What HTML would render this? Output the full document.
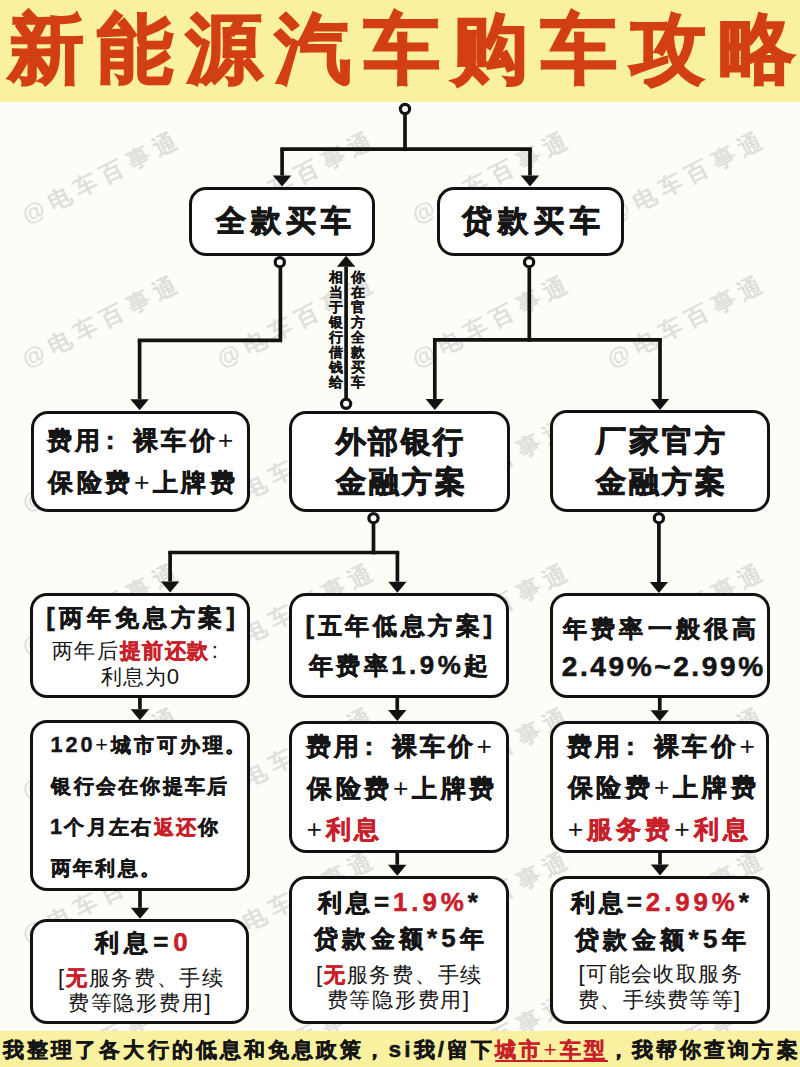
<!DOCTYPE html>
<html><head><meta charset="utf-8"><style>
html,body{margin:0;padding:0;}
body{width:800px;height:1067px;overflow:hidden;position:relative;background:#fcfdf7;font-family:"Liberation Sans", sans-serif;}
.hd{position:absolute;left:0;top:0;width:800px;height:102px;background:#f9f1a0;}
.ft{position:absolute;left:0;top:1031px;width:800px;height:36px;background:#f9f1a0;}
.wm{position:absolute;width:200px;height:30px;line-height:30px;text-align:center;font-size:23px;font-weight:700;letter-spacing:6.5px;padding-left:6.5px;box-sizing:border-box;color:#dfe0db;transform:rotate(-27deg);white-space:nowrap;}
.bx{position:absolute;box-sizing:border-box;border:3.8px solid #121212;border-radius:17px;background:#fff;}
.t{position:absolute;white-space:nowrap;}
.l{font-size:1.08em}
.vt{position:absolute;font-size:14px;line-height:15px;font-weight:700;-webkit-text-stroke:0.15px #121212;color:#121212;text-align:center;width:14px;}
svg{position:absolute;left:0;top:0;}
</style></head><body>
<div class="hd"></div>
<div class="wm" style="left:-1.25px;top:163px">@电车百事通</div><div class="wm" style="left:193.75px;top:163px">@电车百事通</div><div class="wm" style="left:388.75px;top:163px">@电车百事通</div><div class="wm" style="left:583.75px;top:163px">@电车百事通</div><div class="wm" style="left:-1.25px;top:307px">@电车百事通</div><div class="wm" style="left:193.75px;top:307px">@电车百事通</div><div class="wm" style="left:388.75px;top:307px">@电车百事通</div><div class="wm" style="left:583.75px;top:307px">@电车百事通</div><div class="wm" style="left:-1.25px;top:451px">@电车百事通</div><div class="wm" style="left:193.75px;top:451px">@电车百事通</div><div class="wm" style="left:388.75px;top:451px">@电车百事通</div><div class="wm" style="left:583.75px;top:451px">@电车百事通</div><div class="wm" style="left:-1.25px;top:595px">@电车百事通</div><div class="wm" style="left:193.75px;top:595px">@电车百事通</div><div class="wm" style="left:388.75px;top:595px">@电车百事通</div><div class="wm" style="left:583.75px;top:595px">@电车百事通</div><div class="wm" style="left:-1.25px;top:739px">@电车百事通</div><div class="wm" style="left:193.75px;top:739px">@电车百事通</div><div class="wm" style="left:388.75px;top:739px">@电车百事通</div><div class="wm" style="left:583.75px;top:739px">@电车百事通</div><div class="wm" style="left:-1.25px;top:883px">@电车百事通</div><div class="wm" style="left:193.75px;top:883px">@电车百事通</div><div class="wm" style="left:388.75px;top:883px">@电车百事通</div><div class="wm" style="left:583.75px;top:883px">@电车百事通</div><div class="wm" style="left:-1.25px;top:1027px">@电车百事通</div><div class="wm" style="left:193.75px;top:1027px">@电车百事通</div><div class="wm" style="left:388.75px;top:1027px">@电车百事通</div><div class="wm" style="left:583.75px;top:1027px">@电车百事通</div>
<svg width="800" height="1067" viewBox="0 0 800 1067"><polyline points="405,109 405,149.2" fill="none" stroke="#121212" stroke-width="3.7" stroke-linecap="square" stroke-linejoin="miter"/><polyline points="282.1,149.2 530,149.2" fill="none" stroke="#121212" stroke-width="3.7" stroke-linecap="square" stroke-linejoin="miter"/><polyline points="280.4,262.2 280.4,340.4 139.6,340.4" fill="none" stroke="#121212" stroke-width="3.7" stroke-linecap="square" stroke-linejoin="miter"/><polyline points="529.3,262.2 529.3,339.8" fill="none" stroke="#121212" stroke-width="3.7" stroke-linecap="square" stroke-linejoin="miter"/><polyline points="434.8,339.8 660,339.8" fill="none" stroke="#121212" stroke-width="3.7" stroke-linecap="square" stroke-linejoin="miter"/><polyline points="373.5,518.2 373.5,552.5" fill="none" stroke="#121212" stroke-width="3.7" stroke-linecap="square" stroke-linejoin="miter"/><polyline points="170.1,552.5 397.4,552.5" fill="none" stroke="#121212" stroke-width="3.7" stroke-linecap="square" stroke-linejoin="miter"/><line x1="282.1" y1="149.2" x2="282.1" y2="175.5" stroke="#121212" stroke-width="3.7"/><polygon points="272.90000000000003,175.5 291.3,175.5 282.1,186.5" fill="#121212"/><line x1="530" y1="149.2" x2="530" y2="175.5" stroke="#121212" stroke-width="3.7"/><polygon points="520.8,175.5 539.2,175.5 530,186.5" fill="#121212"/><line x1="139.6" y1="340.4" x2="139.6" y2="399.3" stroke="#121212" stroke-width="3.7"/><polygon points="130.4,399.3 148.79999999999998,399.3 139.6,410.3" fill="#121212"/><line x1="346.1" y1="404" x2="346.1" y2="266.7" stroke="#121212" stroke-width="3.7"/><polygon points="336.90000000000003,266.7 355.3,266.7 346.1,255.7" fill="#121212"/><line x1="434.8" y1="339.8" x2="434.8" y2="399" stroke="#121212" stroke-width="3.7"/><polygon points="425.6,399 444.0,399 434.8,410" fill="#121212"/><line x1="660" y1="339.8" x2="660" y2="399" stroke="#121212" stroke-width="3.7"/><polygon points="650.8,399 669.2,399 660,410" fill="#121212"/><line x1="170.1" y1="552.5" x2="170.1" y2="581.5" stroke="#121212" stroke-width="3.7"/><polygon points="160.9,581.5 179.29999999999998,581.5 170.1,592.5" fill="#121212"/><line x1="397.4" y1="552.5" x2="397.4" y2="581.7" stroke="#121212" stroke-width="3.7"/><polygon points="388.2,581.7 406.59999999999997,581.7 397.4,592.7" fill="#121212"/><line x1="658.9" y1="518.2" x2="658.9" y2="582" stroke="#121212" stroke-width="3.7"/><polygon points="649.6999999999999,582 668.1,582 658.9,593" fill="#121212"/><line x1="139.9" y1="698" x2="139.9" y2="709.2" stroke="#121212" stroke-width="3.7"/><polygon points="130.70000000000002,709.2 149.1,709.2 139.9,720.2" fill="#121212"/><line x1="397.25" y1="697.75" x2="397.25" y2="710" stroke="#121212" stroke-width="3.7"/><polygon points="388.05,710 406.45,710 397.25,721" fill="#121212"/><line x1="659.75" y1="697.75" x2="659.75" y2="710.2" stroke="#121212" stroke-width="3.7"/><polygon points="650.55,710.2 668.95,710.2 659.75,721.2" fill="#121212"/><line x1="140" y1="891" x2="140" y2="907.8" stroke="#121212" stroke-width="3.7"/><polygon points="130.8,907.8 149.2,907.8 140,918.8" fill="#121212"/><line x1="397.25" y1="852.6" x2="397.25" y2="864.8" stroke="#121212" stroke-width="3.7"/><polygon points="388.05,864.8 406.45,864.8 397.25,875.8" fill="#121212"/><line x1="660" y1="852.6" x2="660" y2="864.6" stroke="#121212" stroke-width="3.7"/><polygon points="650.8,864.6 669.2,864.6 660,875.6" fill="#121212"/><circle cx="405" cy="109" r="4.6" fill="#fff" stroke="#121212" stroke-width="3.2"/><circle cx="279.8" cy="262.2" r="4.6" fill="#fff" stroke="#121212" stroke-width="3.2"/><circle cx="529.1" cy="262.2" r="4.6" fill="#fff" stroke="#121212" stroke-width="3.2"/><circle cx="346.1" cy="403.8" r="4.6" fill="#fff" stroke="#121212" stroke-width="3.2"/><circle cx="373.5" cy="518.2" r="4.6" fill="#fff" stroke="#121212" stroke-width="3.2"/><circle cx="658.9" cy="518.2" r="4.6" fill="#fff" stroke="#121212" stroke-width="3.2"/></svg>
<div class="bx" style="left:189px;top:186.75px;width:186.2px;height:69.25px"></div><div class="bx" style="left:437px;top:186.75px;width:187.20000000000005px;height:68.85px"></div><div class="bx" style="left:30.5px;top:410.5px;width:219.7px;height:101.79999999999995px"></div><div class="bx" style="left:289.2px;top:410.5px;width:220.8px;height:101.5px"></div><div class="bx" style="left:550.1px;top:410.3px;width:220.0px;height:101.69999999999999px"></div><div class="bx" style="left:30px;top:592.5px;width:220.2px;height:105.5px"></div><div class="bx" style="left:289.2px;top:592.7px;width:219.8px;height:105.04999999999995px"></div><div class="bx" style="left:549.8px;top:593px;width:220.20000000000005px;height:104.75px"></div><div class="bx" style="left:30px;top:720px;width:219.5px;height:171px"></div><div class="bx" style="left:288.6px;top:721px;width:220.0px;height:131.60000000000002px"></div><div class="bx" style="left:550.2px;top:721px;width:219.29999999999995px;height:131.60000000000002px"></div><div class="bx" style="left:30px;top:919px;width:219px;height:105.40000000000009px"></div><div class="bx" style="left:289px;top:875.8px;width:219.5px;height:148.4000000000001px"></div><div class="bx" style="left:550px;top:875.6px;width:219.5px;height:148.60000000000002px"></div>
<div class="vt" style="left:329px;top:269.5px">相<br>当<br>于<br>银<br>行<br>借<br>钱<br>给</div><div class="vt" style="left:351.2px;top:270.2px">你<br>在<br>官<br>方<br>全<br>款<br>买<br>车</div>
<div class="ft"></div>
<div class="t" style="left:8.0px;top:10.5px;font-size:76px;line-height:76px;letter-spacing:12.88px;font-weight:700;color:#d23f12;-webkit-text-stroke:2px #d23f12;">新能源汽车购车攻略</div><div class="t" style="left:216.0px;top:206.0px;font-size:30px;line-height:30px;letter-spacing:5.0px;font-weight:700;color:#151515;-webkit-text-stroke:0.9px currentColor;">全款买车</div><div class="t" style="left:462.0px;top:205.5px;font-size:30px;line-height:30px;letter-spacing:6.0px;font-weight:700;color:#151515;-webkit-text-stroke:0.9px currentColor;">贷款买车</div><div class="t" style="left:47.25px;top:428.43px;font-size:24.5px;line-height:24.5px;letter-spacing:3.21px;font-weight:700;color:#151515;-webkit-text-stroke:0.54px currentColor;">费用<span class=l style="margin-left:0.08em;margin-right:0.58em">:</span>裸车价<span class=l><span style="font-weight:400;-webkit-text-stroke-width:0">+</span></span></div><div class="t" style="left:48.25px;top:469.7px;font-size:24.5px;line-height:24.5px;letter-spacing:3.54px;font-weight:700;color:#151515;-webkit-text-stroke:0.54px currentColor;">保险费<span class=l><span style="font-weight:400;-webkit-text-stroke-width:0">+</span></span>上牌费</div><div class="t" style="left:335.75px;top:426.6px;font-size:30px;line-height:30px;letter-spacing:2.42px;font-weight:700;color:#151515;-webkit-text-stroke:0.9px currentColor;">外部银行</div><div class="t" style="left:335.75px;top:467.25px;font-size:30px;line-height:30px;letter-spacing:3.08px;font-weight:700;color:#151515;-webkit-text-stroke:0.9px currentColor;">金融方案</div><div class="t" style="left:595.5px;top:426.25px;font-size:30px;line-height:30px;letter-spacing:3.25px;font-weight:700;color:#151515;-webkit-text-stroke:0.9px currentColor;">厂家官方</div><div class="t" style="left:595.5px;top:466.62px;font-size:30px;line-height:30px;letter-spacing:3.25px;font-weight:700;color:#151515;-webkit-text-stroke:0.9px currentColor;">金融方案</div><div class="t" style="left:46.25px;top:605.67px;font-size:23.5px;line-height:23.5px;letter-spacing:3.96px;font-weight:700;color:#151515;-webkit-text-stroke:0.52px currentColor;"><span class=l>[</span>两年免息方案<span class=l>]</span></div><div class="t" style="left:51.9px;top:640.6px;font-size:20.5px;line-height:20.5px;letter-spacing:1.59px;font-weight:400;color:#151515;">两年后<b style="color:#c8202a;font-weight:700;-webkit-text-stroke:0.5px #c8202a">提前还款</b><span class=l style="margin-left:0.08em;margin-right:0.58em">:</span></div><div class="t" style="left:100.6px;top:667.12px;font-size:20.5px;line-height:20.5px;letter-spacing:1.07px;font-weight:400;color:#151515;">利息为<span class=l>0</span></div><div class="t" style="left:305.5px;top:612.88px;font-size:24px;line-height:24px;letter-spacing:3.61px;font-weight:700;color:#151515;-webkit-text-stroke:0.53px currentColor;"><span class=l>[</span>五年低息方案<span class=l>]</span></div><div class="t" style="left:308.5px;top:653.12px;font-size:24px;line-height:24px;letter-spacing:3.54px;font-weight:700;color:#151515;-webkit-text-stroke:0.53px currentColor;">年费率<span class=l>1.9%</span>起</div><div class="t" style="left:562.7px;top:617.05px;font-size:24px;line-height:24px;letter-spacing:4.28px;font-weight:700;color:#151515;-webkit-text-stroke:0.53px currentColor;">年费率一般很高</div><div class="t" style="left:561.7px;top:653.9px;font-size:26px;line-height:26px;letter-spacing:2.58px;font-weight:700;color:#151515;-webkit-text-stroke:0.57px currentColor;"><span class=l>2.49%~2.99%</span></div><div class="t" style="left:50.6px;top:734.88px;font-size:20px;line-height:20px;letter-spacing:2.91px;font-weight:700;color:#151515;-webkit-text-stroke:0.44px currentColor;"><span class=l>120<span style="font-weight:400;-webkit-text-stroke-width:0">+</span></span>城市可办理。</div><div class="t" style="left:51.4px;top:775.62px;font-size:20px;line-height:20px;letter-spacing:2.27px;font-weight:700;color:#151515;-webkit-text-stroke:0.44px currentColor;">银行会在你提车后</div><div class="t" style="left:50.0px;top:816.65px;font-size:20px;line-height:20px;letter-spacing:2.34px;font-weight:700;color:#151515;-webkit-text-stroke:0.44px currentColor;"><span class=l>1</span>个月左右<b style="color:#c8202a;font-weight:700;-webkit-text-stroke:0.5px #c8202a">返还</b>你</div><div class="t" style="left:51.0px;top:858.15px;font-size:20px;line-height:20px;letter-spacing:2.2px;font-weight:700;color:#151515;-webkit-text-stroke:0.44px currentColor;">两年利息。</div><div class="t" style="left:305.9px;top:734.42px;font-size:24.5px;line-height:24.5px;letter-spacing:3.22px;font-weight:700;color:#151515;-webkit-text-stroke:0.54px currentColor;">费用<span class=l style="margin-left:0.08em;margin-right:0.58em">:</span>裸车价<span class=l><span style="font-weight:400;-webkit-text-stroke-width:0">+</span></span></div><div class="t" style="left:306.9px;top:775.5px;font-size:24.5px;line-height:24.5px;letter-spacing:3.68px;font-weight:700;color:#151515;-webkit-text-stroke:0.54px currentColor;">保险费<span class=l><span style="font-weight:400;-webkit-text-stroke-width:0">+</span></span>上牌费</div><div class="t" style="left:306.4px;top:816.92px;font-size:24.5px;line-height:24.5px;letter-spacing:3.78px;font-weight:700;color:#151515;-webkit-text-stroke:0.54px currentColor;"><span class=l><span style="font-weight:400;-webkit-text-stroke-width:0">+</span></span><b style="color:#c8202a;font-weight:700;-webkit-text-stroke:0.5px #c8202a">利息</b></div><div class="t" style="left:566.75px;top:733.8px;font-size:24.5px;line-height:24.5px;letter-spacing:3.58px;font-weight:700;color:#151515;-webkit-text-stroke:0.54px currentColor;">费用<span class=l style="margin-left:0.08em;margin-right:0.58em">:</span>裸车价<span class=l><span style="font-weight:400;-webkit-text-stroke-width:0">+</span></span></div><div class="t" style="left:567.75px;top:775.0px;font-size:24.5px;line-height:24.5px;letter-spacing:3.74px;font-weight:700;color:#151515;-webkit-text-stroke:0.54px currentColor;">保险费<span class=l><span style="font-weight:400;-webkit-text-stroke-width:0">+</span></span>上牌费</div><div class="t" style="left:567.75px;top:816.62px;font-size:24.5px;line-height:24.5px;letter-spacing:4.0px;font-weight:700;color:#151515;-webkit-text-stroke:0.54px currentColor;"><span class=l><span style="font-weight:400;-webkit-text-stroke-width:0">+</span></span><b style="color:#c8202a;font-weight:700;-webkit-text-stroke:0.5px #c8202a">服务费</b><span class=l><span style="font-weight:400;-webkit-text-stroke-width:0">+</span></span><b style="color:#c8202a;font-weight:700;-webkit-text-stroke:0.5px #c8202a">利息</b></div><div class="t" style="left:95.0px;top:930.0px;font-size:24px;line-height:24px;letter-spacing:5.07px;font-weight:700;color:#151515;-webkit-text-stroke:0.53px currentColor;">利息<span class=l>=</span><b style="color:#c8202a;font-weight:700;-webkit-text-stroke:0.5px #c8202a"><span class=l>0</span></b></div><div class="t" style="left:58.0px;top:968.33px;font-size:20.5px;line-height:20.5px;letter-spacing:1.71px;font-weight:400;color:#151515;"><span class=l>[</span><b style="color:#c8202a;font-weight:700;-webkit-text-stroke:0.5px #c8202a">无</b>服务费、手续</div><div class="t" style="left:67.75px;top:992.5px;font-size:20.5px;line-height:20.5px;letter-spacing:1.79px;font-weight:400;color:#151515;">费等隐形费用<span class=l>]</span></div><div class="t" style="left:318.25px;top:890.0px;font-size:24px;line-height:24px;letter-spacing:3.89px;font-weight:700;color:#151515;-webkit-text-stroke:0.53px currentColor;">利息<span class=l>=</span><b style="color:#c8202a;font-weight:700;-webkit-text-stroke:0.5px #c8202a"><span class=l>1.9%</span></b><span class=l>*</span></div><div class="t" style="left:314.0px;top:926.38px;font-size:24px;line-height:24px;letter-spacing:4.25px;font-weight:700;color:#151515;-webkit-text-stroke:0.53px currentColor;">贷款金额<span class=l>*5</span>年</div><div class="t" style="left:315.9px;top:964.7px;font-size:20.5px;line-height:20.5px;letter-spacing:1.76px;font-weight:400;color:#151515;"><span class=l>[</span><b style="color:#c8202a;font-weight:700;-webkit-text-stroke:0.5px #c8202a">无</b>服务费、手续</div><div class="t" style="left:326.5px;top:990.3px;font-size:20.5px;line-height:20.5px;letter-spacing:1.75px;font-weight:400;color:#151515;">费等隐形费用<span class=l>]</span></div><div class="t" style="left:571.0px;top:890.0px;font-size:24px;line-height:24px;letter-spacing:3.9px;font-weight:700;color:#151515;-webkit-text-stroke:0.53px currentColor;">利息<span class=l>=</span><b style="color:#c8202a;font-weight:700;-webkit-text-stroke:0.5px #c8202a"><span class=l>2.99%</span></b><span class=l>*</span></div><div class="t" style="left:574.9px;top:926.5px;font-size:24px;line-height:24px;letter-spacing:4.38px;font-weight:700;color:#151515;-webkit-text-stroke:0.53px currentColor;">贷款金额<span class=l>*5</span>年</div><div class="t" style="left:578.5px;top:964.48px;font-size:20.5px;line-height:20.5px;letter-spacing:1.43px;font-weight:400;color:#151515;"><span class=l>[</span>可能会收取服务</div><div class="t" style="left:578.0px;top:989.55px;font-size:20.5px;line-height:20.5px;letter-spacing:1.29px;font-weight:400;color:#151515;">费、手续费等等<span class=l>]</span></div><div class="t" style="left:3.0px;top:1038.75px;font-size:21px;line-height:21px;letter-spacing:3.09px;font-weight:700;color:#151515;-webkit-text-stroke:0.46px currentColor;">我整理了各大行的低息和免息政策，<span class=l>si</span>我<span class=l>/</span>留下<b style="color:#c8202a;font-weight:700;text-decoration:underline;text-decoration-thickness:2px;text-underline-offset:3px">城市<span class=l><span style="font-weight:400;-webkit-text-stroke-width:0">+</span></span>车型</b>，我帮你查询方案</div>
</body></html>
